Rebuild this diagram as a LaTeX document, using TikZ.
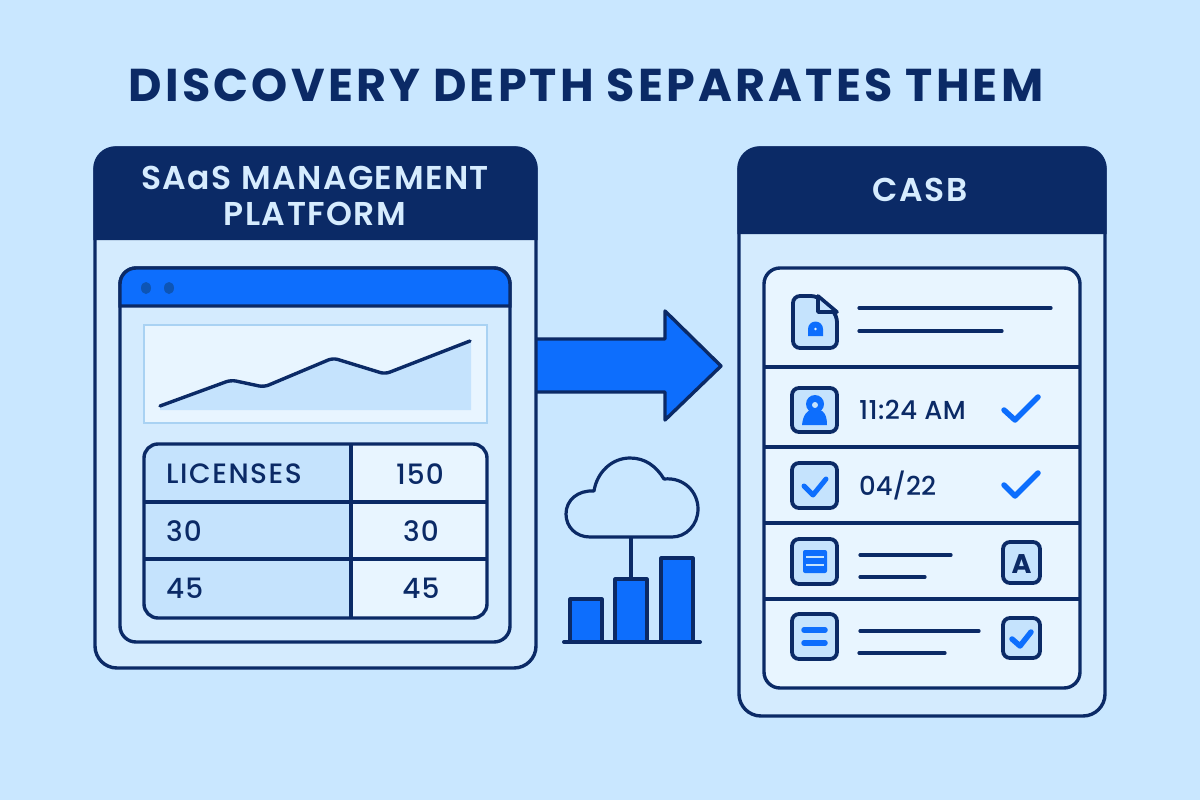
\documentclass[tikz,border=0pt]{standalone}
\usepackage{fontspec}
\setmainfont{Poppins}
\newfontfamily\titlefont[LetterSpace=7]{Poppins Bold}
\newfontfamily\headfont[LetterSpace=4.5]{Poppins SemiBold}
\newfontfamily\bodyfont[LetterSpace=1.5]{Poppins Medium}
\newfontfamily\datefont{Poppins Medium}
\newfontfamily\tablefont[LetterSpace=4]{Poppins Medium}
\newfontfamily\boldfont{Poppins Bold}
\definecolor{bg}{HTML}{C9E7FF}
\definecolor{navy}{HTML}{0B2A66}
\definecolor{blue}{HTML}{0D6EFD}
\definecolor{dot}{HTML}{0D55B5}
\definecolor{pale}{HTML}{D4EBFE}
\definecolor{lite}{HTML}{E8F5FF}
\definecolor{mid}{HTML}{C5E3FD}
\definecolor{edge}{HTML}{A9D2F3}
\definecolor{headtext}{HTML}{D6ECFE}
\tikzset{
  outline/.style={draw=navy,line width=3.4pt},
  thin rule/.style={draw=navy,line width=3.2pt,line cap=round},
  iconbox/.style={fill=mid,draw=navy,line width=3.8pt,rounded corners=7pt},
  tick/.style={draw=blue,line width=5.5pt,line cap=round,line join=round},
  bar/.style={fill=blue,draw=navy,line width=3.2pt,line join=round},
  bodytext/.style={text=navy,inner sep=0pt,font=\bodyfont\fontsize{26}{26}\selectfont},
  tabletext/.style={text=navy,inner sep=0pt,font=\tablefont\fontsize{28}{28}\selectfont},
  headtextstyle/.style={text=headtext,inner sep=0pt,font=\headfont\fontsize{33}{36}\selectfont}
}
\begin{document}
\begin{tikzpicture}[x=1pt,y=-1pt]
\useasboundingbox (0,0) rectangle (1200,800);
\fill[bg] (0,0) rectangle (1200,800);
% title
\node[text=navy,inner sep=0pt,font=\titlefont\fontsize{46}{46}\selectfont] (title) at (586,85) {DISCOVERY DEPTH SEPARATES THEM};
% arrow
\fill[blue] (530,339) -- (665,339) -- (665,311) -- (721,366) -- (665,420) -- (665,392) -- (530,392) -- cycle;
\draw[navy,line width=3.4pt,line join=round] (530,339) -- (665,339) -- (665,311) -- (721,366) -- (665,420) -- (665,392) -- (530,392);
% left panel
\draw[outline,fill=pale,rounded corners=22pt] (95,148) rectangle (536,668);
\fill[navy] (93.3,240) {[rounded corners=22pt] -- (93.3,146.3) -- (537.7,146.3)} -- (537.7,240) -- cycle;
\node[headtextstyle] (saas1) at (315,178) {SAaS MANAGEMENT};
\node[headtextstyle] (saas2) at (315,214) {PLATFORM};
% window
\draw[outline,rounded corners=16pt] (120,268) rectangle (510,642);
\fill[blue] (120,306) {[rounded corners=16pt] -- (120,268) -- (510,268)} -- (510,306) -- cycle;
\draw[outline] (120,306) {[rounded corners=16pt] -- (120,268) -- (510,268)} -- (510,306) -- cycle;
\fill[dot] (146,288) ellipse (5pt and 6pt);
\fill[dot] (169,288) ellipse (5pt and 6pt);
% chart
\draw[edge,fill=lite,line width=2.5pt] (144,325) rectangle (487,423);
\fill[mid] (160,410) -- (160,406) -- (231,380) -- (264,386) -- (333,358) -- (385,373) -- (471,341) -- (471,410) -- cycle;
\draw[navy,line width=3.4pt,line cap=round,line join=round,rounded corners=5pt] (160,406) -- (231,380) -- (264,387) -- (333,358) -- (385,374) -- (470,341);
% table
\fill[mid,rounded corners=14pt] (144,444) rectangle (360,618);
\fill[lite,rounded corners=14pt] (340,444) rectangle (487,618);
\fill[mid] (340,445) rectangle (351,617);
\draw[outline,rounded corners=14pt] (144,444) rectangle (487,618);
\draw[outline] (351,444) -- (351,618);
\draw[outline] (144,502) -- (487,502);
\draw[outline] (144,559) -- (487,559);
\node[text=navy,inner sep=0pt,font={\fontspec[LetterSpace=5.5]{Poppins Medium}\fontsize{28}{28}\selectfont},anchor=west] (lic) at (166,474) {LICENSES};
\node[tabletext] (v150) at (420,474) {150};
\node[tabletext,anchor=west] (a30) at (166,531) {30};
\node[tabletext] (b30) at (421,531) {30};
\node[tabletext,anchor=west] (a45) at (166,588) {45};
\node[tabletext] (b45) at (421,588) {45};
% cloud
\draw[navy,line width=3.2pt,line join=round] (590,537)
  .. controls (576,537) and (566,527) .. (566,514)
  .. controls (566,500) and (578,490) .. (594,491)
  .. controls (597,472) and (612,458) .. (630,458)
  .. controls (645,458) and (656,466) .. (664,479)
  .. controls (684,477) and (698,492) .. (698,509)
  .. controls (698,525) and (686,537) .. (672,537) -- cycle;
\coordinate (cloudbase) at (631,537);
% bars
\draw[bar] (570,642) -- (570,599) -- (602,599) -- (602,642);
\draw[bar] (615,642) -- (615,579) -- (647,579) -- (647,642);
\draw[bar] (661,642) -- (661,558) -- (693,558) -- (693,642);
\coordinate (bartop) at (631,579);
\draw[navy,line width=3.2pt] (cloudbase) -- (bartop);
\draw[navy,line width=4pt,line cap=round] (564,642) -- (700,642);
% right panel
\draw[outline,fill=pale,rounded corners=22pt] (739,148) rectangle (1105,716);
\fill[navy] (737.3,234) {[rounded corners=22pt] -- (737.3,146.3) -- (1106.7,146.3)} -- (1106.7,234) -- cycle;
\node[headtextstyle] (casb) at (920,190) {CASB};
% list
\draw[outline,fill=lite,rounded corners=16pt] (764,268) rectangle (1080,688);
\draw[outline] (764,367) -- (1080,367);
\draw[outline] (764,447) -- (1080,447);
\draw[outline] (764,523) -- (1080,523);
\draw[outline] (764,599) -- (1080,599);
% row 1
\draw[iconbox] (793,296) -- (818,296) -- (837,315) -- (837,348) -- (793,348) -- cycle;
\draw[navy,line width=3.6pt,line join=round,fill=mid] (818,296) -- (818,312) -- (837,312) -- cycle;
\fill[blue] (808,336) -- (808,329) arc[start angle=180,end angle=0,radius=7.5pt] -- (823,336) -- cycle;
\fill[lite] (815.5,329) circle (1.4pt);
\draw[thin rule] (859,308) -- (1051,308);
\draw[thin rule] (859,331) -- (1002,331);
% row 2
\draw[iconbox] (792,388) rectangle (837,432);
\fill[blue] (802,425) .. controls (803,414) and (808,411) .. (810,410) -- (820,410) .. controls (823,411) and (827,414) .. (827,425) -- cycle;
\fill[blue] (815,404) circle (9pt);
\fill[mid] (815,405) circle (3pt);
\node[bodytext,anchor=west] (time) at (859,410) {11:24 AM};
\draw[tick] (1004,410) -- (1015,420) -- (1038,397);
% row 3
\draw[iconbox] (792,463) rectangle (837,508);
\draw[tick,line width=5pt] (804,486) -- (813,495) -- (826,479);
\node[text=navy,inner sep=0pt,font=\datefont\fontsize{26}{26}\selectfont,anchor=west] (date) at (859,485) {04/22};
\draw[tick] (1004,485) -- (1015,496) -- (1038,473);
% row 4
\draw[iconbox] (792,539) rectangle (837,584);
\fill[blue,rounded corners=2pt] (803,550) rectangle (827,573);
\draw[mid,line width=2.5pt] (806,557) -- (824,557);
\draw[mid,line width=2.5pt] (806,565) -- (824,565);
\draw[thin rule] (860,555) -- (951,555);
\draw[thin rule] (860,577) -- (925,577);
\draw[iconbox] (1003,542) rectangle (1040,583);
\node[text=navy,inner sep=0pt,font=\boldfont\fontsize{27}{27}\selectfont] (letter) at (1021.5,564) {A};
% row 5
\draw[iconbox] (792,614) rectangle (837,659);
\draw[blue,line width=5.5pt,line cap=round] (804,630) -- (825,630);
\draw[blue,line width=5.5pt,line cap=round] (804,643) -- (825,643);
\draw[thin rule] (860,631) -- (979,631);
\draw[thin rule] (859,653) -- (945,653);
\draw[iconbox] (1003,618) rectangle (1040,658);
\draw[tick,line width=5.5pt] (1012,639) -- (1020,646) -- (1031,632);
\end{tikzpicture}
\end{document}
